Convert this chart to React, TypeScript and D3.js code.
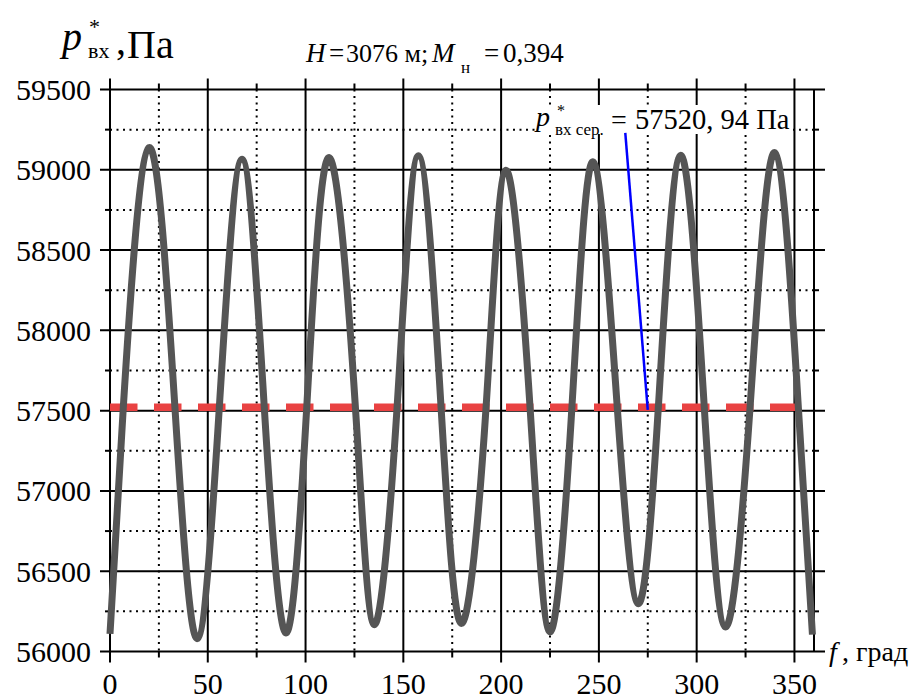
import React from "react";
import * as d3 from "d3";

// Data
const angleDeg = [0, 6.8, 19.9, 33.2, 44.6, 55.9, 67.5, 78.9, 90, 100.6, 112, 125.5, 135.2, 146.8, 157.7, 169.3, 179.8, 192.3, 202.5, 214.8, 225, 236.2, 247, 259.4, 270.2, 280.4, 291.8, 303.9, 314.8, 327.3, 340, 352, 359.2];
const pressurePa = [56110, 57520, 59138, 57520, 56080, 57520, 59066, 57520, 56115, 57520, 59076, 57520, 56167, 57520, 59087, 57520, 56175, 57520, 58997, 57520, 56122, 57520, 59049, 57520, 56298, 57520, 59090, 57520, 56153, 57520, 59107, 57520, 56105];
const meanPressure = 57520.94;
const xMajorTicks = [0, 50, 100, 150, 200, 250, 300, 350];
const xMinorTicks = [25, 75, 125, 175, 225, 275, 325];
const yMajorTicks = [56000, 56500, 57000, 57500, 58000, 58500, 59000, 59500];
const yMinorTicks = [56250, 56750, 57250, 57750, 58250, 58750, 59250];
const leaderFrom = [263.5, 59230];
const leaderTo = [275, 57505];

export default function App() {
  const W = 918, H = 697;
  const x = d3.scaleLinear().domain([0, 360]).range([110, 814]);
  const y = d3.scaleLinear().domain([56000, 59500]).range([651.5, 89.5]);
  const [x0, x1] = x.range();
  const [yb, yt] = y.range();

  const pts: [number, number][] = angleDeg.map((a, i) => [a, pressurePa[i]]);
  const line = d3
    .line<[number, number]>()
    .x((d) => x(d[0]))
    .y((d) => y(d[1]))
    .curve(d3.curveNatural);

  const fs = { fontFamily: '"Liberation Serif"' };
  const fi = { fontFamily: '"Liberation Serif"', fontStyle: "italic" as const };

  return (
    <svg width={W} height={H} style={{ position: "absolute", left: 0, top: 0, background: "#fff" }}>
      <rect x={0} y={0} width={W} height={H} fill="#fff" />
      {/* minor grid */}
      {xMinorTicks.map((t) => (
        <g key={"xm" + t}>
          <line x1={x(t)} x2={x(t)} y1={yt} y2={yb} stroke="#000" strokeWidth={2} strokeDasharray="2 4.5" />
          <line x1={x(t)} x2={x(t)} y1={yt - 6} y2={yt} stroke="#000" strokeWidth={2} />
          <line x1={x(t)} x2={x(t)} y1={yb} y2={yb + 6} stroke="#000" strokeWidth={2} />
        </g>
      ))}
      {yMinorTicks.map((t) => (
        <g key={"ym" + t}>
          <line x1={x0} x2={x1} y1={y(t)} y2={y(t)} stroke="#000" strokeWidth={2} strokeDasharray="2 4.5" />
          <line x1={x0 - 5} x2={x0} y1={y(t)} y2={y(t)} stroke="#000" strokeWidth={2} />
          <line x1={x1} x2={x1 + 5} y1={y(t)} y2={y(t)} stroke="#000" strokeWidth={2} />
        </g>
      ))}
      {/* major grid */}
      {xMajorTicks.map((t) => (
        <line key={"xM" + t} x1={x(t)} x2={x(t)} y1={yt - 11} y2={yb + 11} stroke="#000" strokeWidth={2} />
      ))}
      {yMajorTicks.map((t) => (
        <line key={"yM" + t} x1={x0 - 10} x2={x1 + 11} y1={y(t)} y2={y(t)} stroke="#000" strokeWidth={2} />
      ))}
      <line x1={x1} x2={x1} y1={yt} y2={yb} stroke="#000" strokeWidth={2} />

      {/* mean line */}
      <line
        x1={x(0)}
        x2={x(360)}
        y1={y(meanPressure)}
        y2={y(meanPressure)}
        stroke="#e94242"
        strokeWidth={7.5}
        strokeDasharray="27.5 16.5"
      />
      {/* curve */}
      <path d={line(pts) || ""} fill="none" stroke="#555555" strokeWidth={7} strokeLinejoin="round" />

      {/* annotation box */}
      <rect x={535} y={105} width={258} height={29} fill="#fff" />
      <line
        x1={x(leaderFrom[0])}
        y1={y(leaderFrom[1])}
        x2={x(leaderTo[0])}
        y2={y(leaderTo[1])}
        stroke="#0000ff"
        strokeWidth={2.5}
      />
      <text x={536} y={126} fontSize={28} style={fi}>p</text>
      <text x={557} y={116} fontSize={16} style={fs}>*</text>
      <text x={555} y={135} fontSize={17} style={fs}>вх сер.</text>
      <text x={611} y={129} fontSize={28} style={fs}>=</text>
      <text x={635} y={129} fontSize={28.5} style={fs}>57520, 94 Па</text>

      {/* title */}
      <text x={306} y={61.5} fontSize={27} style={fi}>H</text>
      <text x={329} y={61.5} fontSize={27} style={fs}>=</text>
      <text x={346} y={61.5} fontSize={26} style={fs}>3076 м;</text>
      <text x={432} y={61.5} fontSize={27} style={fi}>M</text>
      <text x={461} y={73} fontSize={17} style={fs}>н</text>
      <text x={484} y={61.5} fontSize={27} style={fs}>=</text>
      <text x={503} y={61.5} fontSize={27} style={fs}>0,394</text>

      {/* y label */}
      <text x={62} y={50} fontSize={40} style={fi}>p</text>
      <text x={89} y={34} fontSize={22} style={fs}>*</text>
      <text x={88} y={58} fontSize={22} style={fs}>вх</text>
      <text x={116} y={54} fontSize={40} style={fs}>,</text>
      <text x={127} y={58} fontSize={40} style={fs}>Па</text>

      {/* x label */}
      <text x={829} y={661} fontSize={28} style={fi}>f</text>
      <text x={842} y={661} fontSize={28} style={fs}>, град</text>

      {/* tick labels */}
      {yMajorTicks.map((t) => (
        <text key={"yl" + t} x={91} y={y(t) + 10.5} fontSize={30} textAnchor="end" style={fs}>
          {String(t)}
        </text>
      ))}
      {xMajorTicks.map((t) => (
        <text key={"xl" + t} x={x(t)} y={694} fontSize={30} textAnchor="middle" style={fs}>
          {String(t)}
        </text>
      ))}
    </svg>
  );
}
